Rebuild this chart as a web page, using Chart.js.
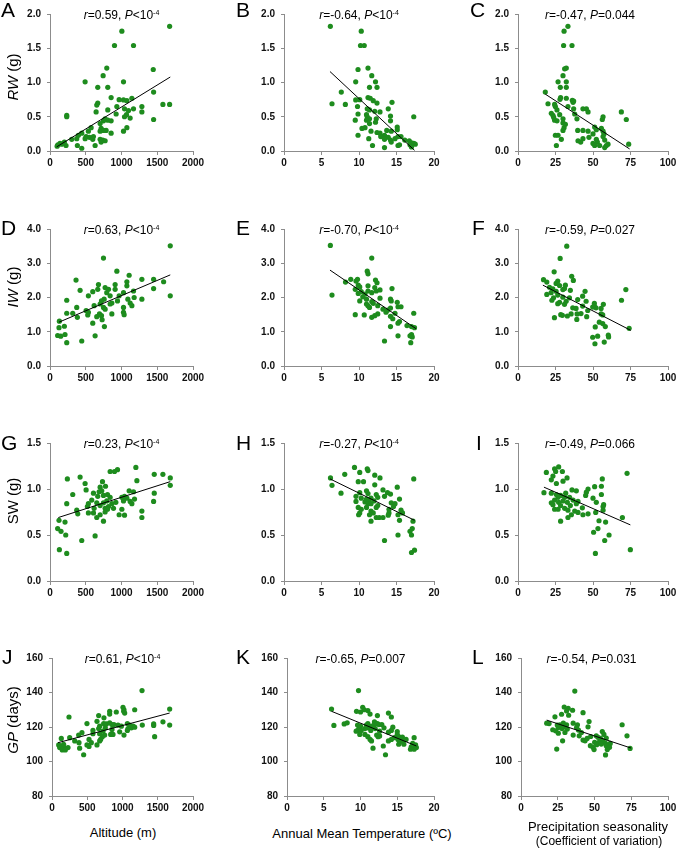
<!DOCTYPE html>
<html><head><meta charset="utf-8">
<script src="https://cdn.jsdelivr.net/npm/chart.js@4.4.1/dist/chart.umd.min.js"></script>
<style>
body{margin:0;width:678px;height:848px;background:#fff;position:relative;overflow:hidden;font-family:"Liberation Sans",Arial,sans-serif;color:#000;}
canvas{position:absolute;}
.letter{position:absolute;font-size:21px;line-height:21px;white-space:nowrap;}
.ann{position:absolute;font-size:12px;line-height:12px;white-space:nowrap;transform:translate(-50%,-50%);}
.ann sup{font-size:7px;vertical-align:4px;line-height:0;}
.ytitle{position:absolute;font-size:15px;line-height:16px;white-space:nowrap;transform:translate(-50%,-50%) rotate(-90deg);}
.xtitle{position:absolute;font-size:13px;line-height:14px;white-space:nowrap;transform:translate(-50%,-50%);}
</style></head><body>
<script>
// ---------- data ----------
const xTicksAlt = [0, 500, 1000, 1500, 2000];
const xTicksTemp = [0, 5, 10, 15, 20];
const xTicksPrec = [0, 25, 50, 75, 100];
const yTicksRW = [0.0, 0.5, 1.0, 1.5, 2.0];
const yTicksIW = [0.0, 1.0, 2.0, 3.0, 4.0];
const yTicksSW = [0.0, 0.5, 1.0, 1.5];
const yTicksGP = [80, 100, 120, 140, 160];

const A_pts = [[1673,1.82],[1005,1.75],[902,1.54],[1168,1.54],[794,1.21],[1444,1.19],[743,1.10],[491,1.01],[1028,1.01],[668,0.93],[808,0.93],[1449,0.86],[855,0.78],[967,0.75],[1028,0.745],[1075,0.735],[1145,0.77],[668,0.70],[654,0.67],[1579,0.68],[1673,0.68],[935,0.65],[808,0.60],[1042,0.615],[1098,0.59],[1168,0.615],[1285,0.65],[1285,0.57],[645,0.57],[925,0.54],[1070,0.53],[234,0.52],[234,0.50],[1042,0.50],[1121,0.48],[1449,0.46],[771,0.47],[808,0.45],[855,0.44],[748,0.44],[701,0.40],[575,0.34],[1075,0.34],[1028,0.29],[715,0.33],[748,0.30],[785,0.30],[701,0.29],[537,0.29],[855,0.26],[444,0.26],[397,0.23],[505,0.21],[551,0.20],[607,0.21],[491,0.18],[598,0.17],[701,0.17],[738,0.16],[771,0.15],[715,0.13],[374,0.18],[304,0.17],[201,0.13],[140,0.11],[110,0.09],[100,0.07],[224,0.08],[383,0.08],[631,0.08],[444,0.04],[164,0.10]];
const B_pts = [[6.18,1.82],[10.3,1.75],[10.2,1.54],[10.7,1.54],[9.87,1.19],[11.2,1.21],[11.7,1.10],[9.56,1.01],[12.2,1.01],[11.4,0.93],[12.4,0.93],[7.64,0.86],[11.2,0.78],[11.5,0.77],[10.1,0.75],[9.56,0.745],[11.9,0.735],[6.4,0.69],[8.18,0.68],[12.4,0.70],[14.4,0.71],[9.8,0.65],[11.1,0.615],[11.4,0.60],[13.9,0.615],[12.1,0.58],[12.8,0.57],[9.87,0.54],[11.0,0.53],[14.2,0.51],[17.3,0.50],[11.1,0.50],[12.3,0.47],[11.4,0.47],[9.5,0.45],[11.0,0.45],[12.2,0.42],[14.2,0.44],[11.4,0.40],[10.4,0.33],[10.8,0.34],[15.1,0.35],[15.1,0.31],[13.7,0.30],[14.3,0.29],[11.6,0.29],[12.4,0.27],[12.8,0.26],[13.4,0.23],[9.87,0.23],[12.9,0.21],[15.2,0.21],[15.6,0.21],[13.9,0.20],[14.8,0.18],[11.3,0.18],[13.4,0.17],[14.2,0.16],[16.1,0.16],[16.7,0.15],[14.3,0.13],[17.0,0.12],[17.3,0.11],[17.5,0.10],[17.0,0.10],[16.8,0.09],[15.2,0.08],[15.4,0.09],[11.8,0.08],[13.4,0.05],[17.0,0.06]];
const C_pts = [[33.3,1.82],[30.7,1.75],[30.4,1.54],[36,1.54],[31.1,1.2],[32.2,1.21],[30,1.10],[26.7,1.01],[32.2,1.01],[28.2,0.93],[32.2,0.93],[18.2,0.86],[28.4,0.78],[28.0,0.755],[32.2,0.77],[36.2,0.74],[37.1,0.73],[20,0.69],[24.4,0.68],[36.7,0.71],[24.9,0.65],[33.3,0.65],[37.1,0.615],[43.3,0.615],[45.6,0.615],[46.7,0.57],[68.9,0.57],[26,0.60],[22.2,0.55],[23.3,0.52],[27.8,0.53],[37.8,0.54],[56.7,0.50],[56.2,0.46],[72.2,0.46],[23.8,0.49],[30,0.47],[24.4,0.45],[39.3,0.47],[30,0.41],[26,0.44],[31.6,0.39],[30.7,0.34],[51.1,0.35],[52.2,0.31],[55.6,0.33],[39.8,0.30],[43.3,0.30],[30,0.30],[46.7,0.29],[56.7,0.29],[50,0.25],[57.3,0.25],[24.9,0.23],[26.7,0.23],[56.7,0.21],[47.3,0.20],[43.3,0.18],[28.9,0.17],[52.2,0.17],[57.8,0.16],[40,0.15],[41.8,0.13],[52.9,0.13],[50,0.11],[60,0.10],[73.8,0.10],[51.1,0.08],[54.4,0.08],[58.9,0.08],[25.6,0.08],[57.8,0.05]];
const D_pts = [[1682,3.51],[748,3.15],[935,2.77],[1107,2.65],[364,2.51],[1285,2.53],[1449,2.53],[1589,2.46],[678,2.38],[911,2.38],[1075,2.46],[421,2.21],[598,2.17],[771,2.29],[818,2.24],[1449,2.26],[668,2.24],[911,2.24],[1075,2.34],[1168,2.19],[1028,2.14],[794,2.14],[537,2.05],[841,2.05],[1682,2.05],[967,2.05],[1177,2.00],[1089,1.95],[1285,1.95],[757,1.95],[720,1.90],[234,1.92],[944,1.90],[865,1.84],[1121,1.84],[701,1.81],[617,1.76],[841,1.81],[748,1.71],[374,1.71],[771,1.66],[1028,1.71],[1145,1.76],[505,1.62],[537,1.57],[865,1.52],[1028,1.57],[1037,1.50],[234,1.54],[318,1.54],[528,1.49],[692,1.52],[654,1.44],[720,1.47],[383,1.42],[131,1.31],[729,1.35],[598,1.25],[201,1.16],[126,1.12],[761,1.15],[107,0.89],[150,0.87],[210,0.92],[631,0.88],[234,0.68],[444,0.73]];
const E_pts = [[6.18,3.52],[11.7,3.15],[11.1,2.77],[11.2,2.69],[8.9,2.53],[8.2,2.45],[9.6,2.48],[9.8,2.53],[12.2,2.51],[12.4,2.43],[9.9,2.36],[10.1,2.31],[11.2,2.34],[14.4,2.26],[12.1,2.29],[12.8,2.22],[12.3,2.19],[9.5,2.24],[11.2,2.19],[10.3,2.17],[10.8,2.10],[11.7,2.14],[6.4,2.07],[9.9,2.12],[10.5,2.02],[12.8,1.98],[14.2,1.95],[14.3,1.90],[11.0,1.95],[10.1,1.90],[11.7,1.88],[15.1,1.86],[15.2,1.73],[15.6,1.73],[11.0,1.81],[11.9,1.83],[11.2,1.76],[12.5,1.76],[14.2,1.69],[11.4,1.71],[13.2,1.66],[13.8,1.63],[13.6,1.57],[14.8,1.54],[17.3,1.54],[12.5,1.52],[9.5,1.50],[10.7,1.49],[12.1,1.47],[11.7,1.42],[14.2,1.45],[14.5,1.38],[15.4,1.30],[15.2,1.25],[16.4,1.18],[17.0,1.15],[17.4,1.12],[14.2,1.15],[15.2,0.88],[16.8,0.88],[17.0,0.92],[17.1,0.85],[13.4,0.73],[16.9,0.68]];
const F_pts = [[32.5,3.50],[28.1,3.14],[24.1,2.75],[17.0,2.52],[19.2,2.45],[26.5,2.48],[25.4,2.41],[35.8,2.62],[36.9,2.50],[27.7,2.35],[31.6,2.36],[21,2.30],[23.2,2.25],[29.9,2.23],[31,2.26],[34.9,2.21],[71.9,2.23],[44.7,2.18],[25.4,2.18],[22.1,2.14],[19.2,2.09],[26.5,2.07],[43.1,2.04],[23.7,1.99],[29.9,2.01],[34.3,1.99],[39.8,1.94],[22.6,1.92],[69,1.92],[32.1,1.89],[45.4,1.89],[27.7,1.86],[50.9,1.83],[56.9,1.80],[26.5,1.82],[31,1.80],[50.9,1.75],[43.1,1.75],[52,1.70],[36.5,1.70],[38.7,1.68],[55.4,1.68],[46.5,1.62],[49.8,1.72],[35.4,1.52],[39.4,1.52],[55.4,1.52],[56.5,1.49],[28.5,1.50],[29.6,1.48],[32.9,1.46],[42,1.53],[24.3,1.41],[45.8,1.44],[39.2,1.36],[54.2,1.28],[56.5,1.24],[51.5,1.14],[58.2,1.15],[74.1,1.10],[60.2,0.90],[60.4,0.85],[49.8,0.84],[53.1,0.87],[51.3,0.65],[57.5,0.70]];
const G_pts = [[1201,1.235],[944,1.21],[902,1.19],[841,1.19],[421,1.13],[243,1.11],[1458,1.16],[1579,1.16],[1682,1.12],[1215,1.09],[734,1.08],[491,1.06],[701,1.02],[776,1.03],[1682,1.04],[505,0.99],[318,0.94],[608,0.955],[687,0.97],[724,0.98],[748,0.93],[804,0.94],[1458,0.955],[1107,0.98],[1168,0.97],[668,0.92],[841,0.91],[1005,0.91],[1042,0.92],[1075,0.90],[1182,0.89],[921,0.855],[1028,0.87],[1121,0.865],[1145,0.84],[1449,0.865],[584,0.88],[794,0.87],[234,0.84],[748,0.85],[865,0.84],[537,0.84],[654,0.85],[701,0.82],[818,0.81],[523,0.81],[888,0.79],[771,0.79],[617,0.79],[804,0.78],[374,0.77],[1005,0.78],[388,0.73],[537,0.74],[771,0.75],[1285,0.76],[608,0.74],[701,0.72],[654,0.69],[967,0.72],[1042,0.715],[1285,0.69],[126,0.66],[210,0.64],[748,0.65],[107,0.57],[154,0.54],[220,0.50],[631,0.49],[444,0.44],[131,0.34],[234,0.30]];
const H_pts = [[9.4,1.235],[11.1,1.22],[11.2,1.20],[8.1,1.16],[12.1,1.15],[12.8,1.12],[6.2,1.12],[17.3,1.11],[10.1,1.18],[9.9,1.08],[10.6,1.08],[6.4,1.04],[12.1,1.045],[15.1,1.02],[11,0.98],[7.6,0.955],[13.2,0.99],[13.8,0.96],[14.2,0.945],[10.1,0.96],[9.6,0.92],[11.2,0.95],[12.3,0.94],[12.5,0.91],[13.4,0.92],[10.3,0.90],[11,0.89],[11.6,0.90],[15.4,0.89],[9.6,0.865],[10.8,0.86],[11.3,0.865],[12,0.87],[14.3,0.85],[14.8,0.84],[14.6,0.81],[11.2,0.84],[11.6,0.84],[12.5,0.82],[9.9,0.80],[11,0.80],[12.3,0.80],[14,0.78],[10.3,0.78],[15.6,0.77],[15.8,0.74],[11.6,0.76],[10.1,0.74],[11.9,0.74],[14,0.74],[13.9,0.715],[15.2,0.72],[9.95,0.72],[11.4,0.72],[12.3,0.69],[12.7,0.69],[13.2,0.69],[11.6,0.65],[15.4,0.66],[17.2,0.65],[17.1,0.57],[16.8,0.54],[17,0.50],[15.2,0.50],[13.4,0.44],[17,0.31],[17.4,0.335]];
const I_pts = [[27.1,1.24],[24.4,1.22],[25.1,1.19],[29.6,1.19],[18.9,1.18],[32.7,1.12],[72.7,1.17],[22.2,1.10],[23.3,1.14],[56.2,1.11],[25.6,1.06],[30,1.085],[51.1,1.025],[55.6,1.03],[17.3,0.96],[36,0.99],[38.9,0.98],[46.7,1.0],[45.6,0.965],[55.6,0.94],[45.1,0.93],[22.2,0.955],[25.6,0.94],[28.4,0.93],[31.8,0.955],[26.7,0.91],[31.1,0.91],[34.4,0.91],[50,0.90],[24.4,0.88],[30,0.87],[36.7,0.88],[40,0.865],[22.2,0.85],[27.1,0.855],[32.9,0.855],[38.9,0.84],[52.2,0.855],[57.1,0.83],[23.3,0.83],[28.4,0.82],[34.9,0.82],[56.7,0.81],[42.9,0.795],[24.4,0.78],[26.7,0.78],[31.1,0.79],[33.3,0.77],[37.8,0.76],[56.7,0.77],[40,0.745],[46.7,0.73],[51.8,0.745],[35.6,0.72],[43.3,0.72],[33.3,0.69],[69.6,0.69],[28.4,0.65],[54,0.655],[58.4,0.64],[53.3,0.57],[50.4,0.53],[60.7,0.50],[57.8,0.44],[51.6,0.30],[74.9,0.34]];
const J_pts = [[1277,141.1],[1007,131.4],[1021,130.0],[1669,130.4],[1173,130.0],[241,125.8],[662,126.6],[818,129.1],[818,127.5],[912,128.7],[1017,129.1],[1031,128.1],[638,123.3],[737,125.3],[496,122.0],[733,122.0],[771,121.8],[818,122.4],[851,121.4],[879,121.4],[936,121.1],[1069,122.0],[1574,123.0],[1281,121.1],[1442,121.8],[1442,120.9],[1669,121.1],[676,120.5],[984,120.5],[1102,121.1],[1149,120.5],[662,119.1],[756,119.5],[1078,119.1],[1125,119.5],[1173,119.9],[1069,118.0],[581,118.0],[851,118.6],[425,116.7],[723,117.6],[960,117.2],[676,116.1],[581,116.1],[832,115.7],[865,115.7],[747,115.3],[1021,115.3],[1456,114.4],[378,115.3],[714,114.4],[251,113.8],[132,113.4],[322,111.9],[525,112.8],[690,112.8],[383,110.9],[558,110.9],[638,109.6],[496,109.6],[676,111.9],[95,109.6],[123,109.0],[165,110.0],[109,108.1],[180,107.7],[227,108.1],[392,107.7],[146,106.7],[189,106.7],[449,103.9],[525,108.7]];
const K_pts = [[9.73,141.1],[6.06,130.4],[10.3,131.4],[10.5,130.0],[9.46,129.1],[10.0,128.7],[11.0,129.5],[11.3,127.5],[13.8,128.1],[12.3,126.6],[14.2,125.8],[7.78,121.8],[8.19,122.4],[6.38,120.9],[9.6,121.1],[9.82,119.5],[10.0,120.5],[9.64,118.0],[9.41,117.6],[10.8,121.1],[11.0,122.0],[11.9,123.0],[12.3,122.0],[12.5,121.4],[12.9,121.4],[11.9,121.4],[11.5,120.5],[11.0,119.5],[10.6,119.1],[10.1,118.0],[9.9,115.7],[10.6,115.7],[11.4,118.0],[12.0,119.1],[12.6,117.6],[13.2,119.5],[14.4,119.9],[14.2,118.0],[13.8,117.0],[12.2,115.3],[12.4,114.4],[12.6,114.8],[11.0,114.4],[11.3,112.8],[11.5,111.9],[11.7,107.7],[13.1,109.0],[13.4,103.9],[13.8,111.9],[14.2,112.8],[14.6,113.8],[15.0,117.4],[15.0,115.7],[15.2,114.4],[15.7,114.2],[15.1,112.8],[15.6,112.8],[15.3,111.5],[15.8,111.5],[16.2,112.8],[15.2,110.0],[15.9,110.0],[17.3,113.8],[16.9,108.5],[16.8,107.1],[17.1,109.0],[17.3,107.1],[17.6,108.1],[17.5,109.6],[17.1,110.5]];
const L_pts = [[36.6,140.8],[29.4,131.6],[32.1,130.8],[35.1,129.7],[31.0,129.3],[27.6,127.4],[42.2,128.3],[32.4,126.8],[23.1,125.9],[46.3,123.2],[17.5,122.2],[19.1,122.0],[28.8,122.2],[35.5,122.2],[38.4,121.3],[68.8,121.3],[26.5,121.3],[31.0,121.3],[24.7,121.1],[29.7,120.1],[45.6,120.1],[37.8,119.7],[25.4,119.7],[27.9,119.1],[31.5,118.8],[21.6,118.4],[39.1,118.2],[23.6,117.8],[55.3,117.4],[29.9,116.8],[25.4,116.4],[41.1,116.8],[35.5,115.3],[39.6,114.9],[72.1,114.9],[56.4,115.7],[51.2,114.9],[47.4,114.5],[52.4,114.0],[54.0,113.4],[58.0,113.6],[45.0,113.4],[42.2,112.4],[43.6,112.0],[28.3,112.0],[55.7,112.0],[50.1,111.1],[53.0,111.1],[57.5,110.5],[60.7,110.5],[51.5,109.7],[54.6,110.1],[47.2,109.2],[49.0,108.2],[58.0,109.2],[60.2,108.2],[49.7,106.9],[58.7,106.9],[74.2,107.6],[24.3,107.2],[57.5,103.8]];

// regression line end points
const A_line = [[93,0.06],[1682,1.08]];
const B_line = [[6.13,1.16],[17.4,0.01]];
const C_line = [[18.2,0.83],[74.4,0.03]];
const D_line = [[126,1.28],[1682,2.66]];
const E_line = [[6.13,2.80],[17.6,1.09]];
const F_line = [[16.6,2.36],[75.2,1.04]];
const G_line = [[117,0.69],[1682,1.08]];
const H_line = [[6.13,1.11],[17.4,0.66]];
const I_line = [[17.3,1.02],[74.9,0.61]];
const J_line = [[85,110.9],[1669,128.1]];
const K_line = [[6.06,129.1],[17.6,109.0]];
const L_line = [[17.5,124.0],[74.8,107.8]];

const rValues = ['0.59','-0.64','-0.47','0.63','-0.70','-0.59','0.23','-0.27','-0.49','0.61','-0.65','-0.54'];
const pValues = ['<10|-4','<10|-4','=0.044','<10|-4','<10|-4','=0.027','<10|-4','<10|-4','=0.066','<10|-4','=0.007','=0.031'];
const panelLetters = ['A','B','C','D','E','F','G','H','I','J','K','L'];
const yTitles = ['<i>RW</i> (g)','<i>IW</i> (g)','SW (g)','<i>GP</i> (days)'];
const xTitles = ['Altitude (m)','Annual Mean Temperature (ºC)','Precipitation seasonality'];
const xSubTitle = '(Coefficient of variation)';

// ---------- layout ----------
const GREEN = '#1e8c1e';
const AXIS = '#8c8c8c';
const rowTB = [[12,151],[227,366],[441,581],[656,796]];
const colLeft = [[50,284,518],[50,284,518],[50,284,518],[52,287,521]];
const colRight = [193,434,668];
const PL = 42, PT = 10, PR = 16, PB = 24;

const allPts = [A_pts,B_pts,C_pts,D_pts,E_pts,F_pts,G_pts,H_pts,I_pts,J_pts,K_pts,L_pts];
const allLines = [A_line,B_line,C_line,D_line,E_line,F_line,G_line,H_line,I_line,J_line,K_line,L_line];
const xTickSets = [xTicksAlt, xTicksTemp, xTicksPrec];
const yTickSets = [yTicksRW, yTicksIW, yTicksSW, yTicksGP];

const letterPos = [[2,2],[237,2],[471,2],[2,220],[237,220],[473,220],[2,435],[237,435],[477,435],[3,649],[237,649],[473,649]];

function addDiv(cls, html, left, top){
  const d = document.createElement('div');
  d.className = cls; d.innerHTML = html;
  d.style.left = left + 'px'; d.style.top = top + 'px';
  document.body.appendChild(d);
  return d;
}

for (let i = 0; i < 12; i++) {
  const row = Math.floor(i / 3), col = i % 3;
  const L = colLeft[row][col], R = colRight[col];
  const T = rowTB[row][0], B = rowTB[row][1];
  const xt = xTickSets[col], yt = yTickSets[row];
  const cv = document.createElement('canvas');
  const w = (R - L) + PL + PR, h = (B - T) + PT + PB;
  cv.width = w; cv.height = h;
  cv.style.left = (L - PL) + 'px'; cv.style.top = (T - PT) + 'px';
  cv.style.width = w + 'px'; cv.style.height = h + 'px';
  document.body.appendChild(cv);
  const tickFont = {family:'"Liberation Sans", Arial, sans-serif', size:10, weight:'bold'};
  new Chart(cv, {
    type: 'scatter',
    data: { datasets: [
      { data: allLines[i].map(p => ({x:p[0], y:p[1]})), showLine:true, borderColor:'#000', borderWidth:1, pointRadius:0, fill:false },
      { data: allPts[i].map(p => ({x:p[0], y:p[1]})), backgroundColor:GREEN, borderWidth:0, pointRadius:2.6, pointHoverRadius:2.6 }
    ]},
    options: {
      responsive:false, animation:false, events:[], devicePixelRatio:1,
      layout:{padding:{left:0, top:PT, right:PR, bottom:0}},
      plugins:{legend:{display:false}, tooltip:{enabled:false}},
      scales:{
        x:{ type:'linear', min:xt[0], max:xt[xt.length-1],
            afterBuildTicks: s => { s.ticks = xt.map(v => ({value:v})); },
            ticks:{ autoSkip:false, maxRotation:0, font:tickFont, color:'#111', padding:2, callback: v => String(v) },
            grid:{ drawOnChartArea:false, drawTicks:true, tickLength:4, color:AXIS },
            border:{ display:true, color:AXIS, width:1 },
            afterFit: s => { s.height = PB; } },
        y:{ type:'linear', min:yt[0], max:yt[yt.length-1],
            afterBuildTicks: s => { s.ticks = yt.map(v => ({value:v})); },
            ticks:{ autoSkip:false, font:tickFont, color:'#111', padding:6, callback: v => row < 3 ? Number(v).toFixed(1) : String(v) },
            grid:{ drawOnChartArea:false, drawTicks:true, tickLength:3, color:AXIS },
            border:{ display:true, color:AXIS, width:1 },
            afterFit: s => { s.width = PL; } }
      }
    }
  });
  // annotation
  const pv = pValues[i].split('|');
  const ann = '<i>r</i>=' + rValues[i] + ', <i>P</i>' + pv[0].replace('<','&lt;') + (pv[1] ? '<sup>' + pv[1] + '</sup>' : '');
  addDiv('ann', ann, (L + R) / 2 - (col === 2 ? 3 : 0), T + 3);
  addDiv('letter', panelLetters[i], letterPos[i][0] - 1, letterPos[i][1] - 3);
}

const yTitleY = [77, 287, 501, 720];
for (let r = 0; r < 4; r++) addDiv('ytitle', yTitles[r], 12.5, yTitleY[r]);
addDiv('xtitle', xTitles[0], 123, 833);
addDiv('xtitle', xTitles[1], 362, 834);
addDiv('xtitle', xTitles[2], 598, 826.5);
const sub = addDiv('xtitle', xSubTitle, 599, 840.5);
sub.style.fontSize = '12px';
</script>
</body></html>
